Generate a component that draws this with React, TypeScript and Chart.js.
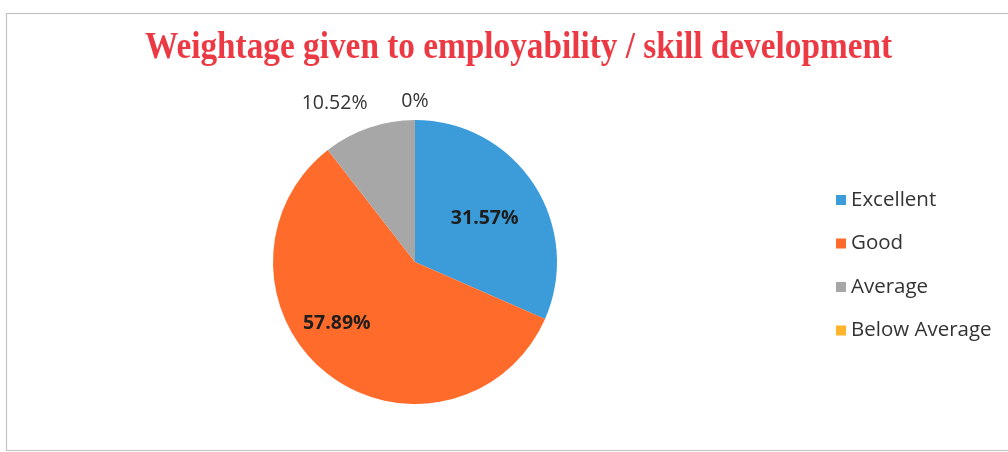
import React, { useEffect, useRef } from "react";
import { Chart, registerables } from "chart.js";

Chart.register(...registerables);

const TITLE = "Weightage given to employability / skill development";
const categories = ["Excellent", "Good", "Average", "Below Average"];
const values = [31.57, 57.89, 10.52, 0];
const valueLabels = ["31.57%", "57.89%", "10.52%", "0%"];
const colors = ["#3C9BD9", "#FF6B2B", "#A7A7A7", "#FFB52B"];

// label placement (style): radial factor, angle offset in degrees, bold
const labelRadial = [0.58, 0.7, 1.25, 1.13];
const labelAngleOffset = [1, 14, -8, 0];
const labelBold = [true, true, false, false];

const decorPlugin = {
  id: "decor",
  afterDraw(chart: any) {
    const ctx = chart.ctx as CanvasRenderingContext2D;
    // border
    ctx.save();
    ctx.strokeStyle = "#C4C4C4";
    ctx.lineWidth = 1.2;
    ctx.strokeRect(6.5, 13.5, 1010, 437);
    ctx.restore();

    // title
    ctx.save();
    ctx.font = 'bold 37px "Liberation Serif", "Times New Roman", serif';
    ctx.fillStyle = "#EC3A45";
    ctx.textBaseline = "alphabetic";
    ctx.textAlign = "left";
    const w = ctx.measureText(TITLE).width;
    const sx = 747 / w;
    ctx.translate(145, 58);
    ctx.scale(sx, 1);
    ctx.fillText(TITLE, 0, 0);
    ctx.restore();

    // data labels
    const meta = chart.getDatasetMeta(0);
    meta.data.forEach((arc: any, i: number) => {
      const { x, y, startAngle, endAngle, outerRadius } = arc.getProps(
        ["x", "y", "startAngle", "endAngle", "outerRadius"],
        true
      );
      const a = (startAngle + endAngle) / 2 + (labelAngleOffset[i] * Math.PI) / 180;
      const r = outerRadius * labelRadial[i];
      const lx = x + Math.cos(a) * r;
      const ly = y + Math.sin(a) * r;
      ctx.save();
      ctx.font = (labelBold[i] ? "bold " : "") + '19.5px "Open Sans", sans-serif';
      ctx.fillStyle = labelBold[i] ? "#1E1E1E" : "#333333";
      ctx.textAlign = "center";
      ctx.textBaseline = "middle";
      ctx.fillText(valueLabels[i], lx, ly);
      ctx.restore();
    });

    // legend
    const lx = 836;
    const ly0 = 200;
    const step = 43.5;
    categories.forEach((c, i) => {
      const cy = ly0 + i * step;
      ctx.save();
      ctx.fillStyle = colors[i];
      ctx.fillRect(lx, cy - 5, 10, 10);
      ctx.font = '20.5px "Open Sans", sans-serif';
      ctx.fillStyle = "#333333";
      ctx.textAlign = "left";
      ctx.textBaseline = "middle";
      ctx.fillText(c, lx + 15, cy);
      ctx.restore();
    });
  },
};

export default function App() {
  const ref = useRef<HTMLCanvasElement | null>(null);
  useEffect(() => {
    if (!ref.current) return;
    const chart = new Chart(ref.current, {
      type: "pie",
      data: {
        labels: categories,
        datasets: [
          {
            data: values,
            backgroundColor: colors,
            borderWidth: 0,
          },
        ],
      },
      options: {
        responsive: false,
        animation: false,
        devicePixelRatio: 1,
        layout: { padding: { top: 120, bottom: 48, left: 273, right: 451 } },
        plugins: {
          legend: { display: false },
          title: { display: false },
          tooltip: { enabled: false },
        },
      },
      plugins: [decorPlugin],
    });
    return () => chart.destroy();
  }, []);
  return (
    <div style={{ position: "absolute", left: 0, top: 0, width: 1008, height: 452, background: "#fff" }}>
      <canvas ref={ref} width={1008} height={452} />
    </div>
  );
}
